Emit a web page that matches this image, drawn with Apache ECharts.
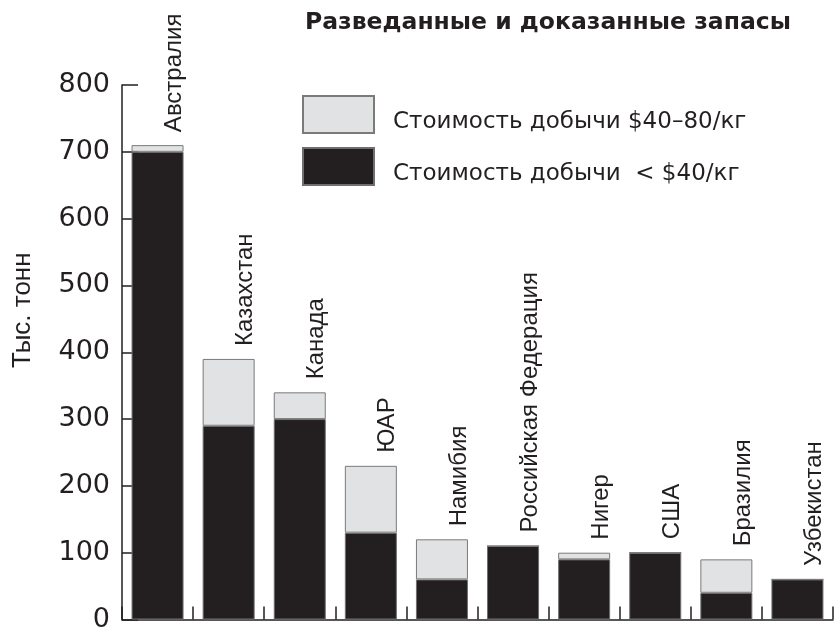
<!DOCTYPE html>
<html>
<head>
<meta charset="utf-8">
<script src="https://cdn.jsdelivr.net/npm/echarts@6/dist/echarts.min.js"></script>
<style>
html,body{margin:0;padding:0;background:#fff;}
#main{width:835px;height:633px;}
</style>
</head>
<body>
<div id="main"></div>
<script>
var categories = ['Австралия','Казахстан','Канада','ЮАР','Намибия','Российская Федерация','Нигер','США','Бразилия','Узбекистан'];
var costBelow40 = [700, 290, 300, 130, 60, 110, 90, 100, 40, 60];
var cost40to80 = [10, 100, 40, 100, 60, 0, 10, 0, 50, 0];
var yTicks = [0, 100, 200, 300, 400, 500, 600, 700, 800];
var seriesNames = ['Стоимость добычи $40–80/кг', 'Стоимость добычи  < $40/кг'];

var FONT = '"Liberation Sans", Arial, Helvetica, sans-serif';
var WIDE = '"DejaVu Sans", Verdana, sans-serif';
var chart = echarts.init(document.getElementById('main'));
chart.setOption({
  animation: false,
  backgroundColor: '#fff',
  textStyle: {fontFamily: FONT, color: '#231f20'},
  title: {
    text: 'Разведанные и доказанные запасы',
    left: 305, top: 11, padding: 0,
    textStyle: {fontFamily: WIDE, fontSize: 23.5, fontWeight: 'bold', color: '#231f20'}
  },
  legend: {
    orient: 'vertical',
    left: 302, top: 95, padding: 0,
    itemWidth: 71, itemHeight: 37, itemGap: 13,
    icon: 'rect',
    data: seriesNames,
    formatter: function (name) { return '{t|' + name + '}'; },
    textStyle: {
      fontFamily: WIDE, fontSize: 23, color: '#231f20', padding: [0, 0, 0, 14],
      rich: {t: {fontFamily: WIDE, fontSize: 23, color: '#231f20', padding: [16, 0, 0, 0]}}
    }
  },
  grid: {left: 122, right: 2, top: 85, bottom: 8, containLabel: false},
  xAxis: {
    type: 'category',
    data: categories,
    axisLine: {lineStyle: {color: '#231f20', width: 1.5}},
    axisTick: {show: true, inside: true, length: 13, alignWithLabel: false, interval: 0, lineStyle: {color: '#231f20', width: 1.5}},
    axisLabel: {show: false},
    splitLine: {show: false}
  },
  yAxis: {
    type: 'value',
    min: yTicks[0], max: yTicks[yTicks.length - 1], interval: 100,
    name: 'Тыс. тонн',
    nameLocation: 'middle',
    nameGap: 86,
    nameTextStyle: {fontFamily: FONT, fontSize: 26, color: '#231f20', padding: [0, 0, 0, 84]},
    axisLine: {show: true, lineStyle: {color: '#231f20', width: 1.5}},
    axisTick: {show: true, inside: true, length: 16, lineStyle: {color: '#231f20', width: 1.5}},
    axisLabel: {fontFamily: WIDE, fontSize: 27, color: '#231f20', margin: 12},
    splitLine: {show: false}
  },
  series: [
    {
      name: seriesNames[1],
      type: 'bar',
      stack: 'total',
      barWidth: 52,
      data: costBelow40,
      itemStyle: {color: '#231f20', borderColor: '#6f6f6f', borderWidth: 1}
    },
    {
      name: seriesNames[0],
      type: 'bar',
      stack: 'total',
      barWidth: 52,
      data: cost40to80,
      itemStyle: {color: '#e1e2e4', borderColor: '#7a7a7a', borderWidth: 1},
      label: {
        show: true,
        position: 'top',
        distance: 13,
        rotate: 90,
        align: 'left',
        verticalAlign: 'middle',
        offset: [0, 17],
        formatter: function (p) { return p.name; },
        fontFamily: FONT, fontSize: 24, color: '#231f20'
      }
    }
  ]
});
</script>
</body>
</html>
